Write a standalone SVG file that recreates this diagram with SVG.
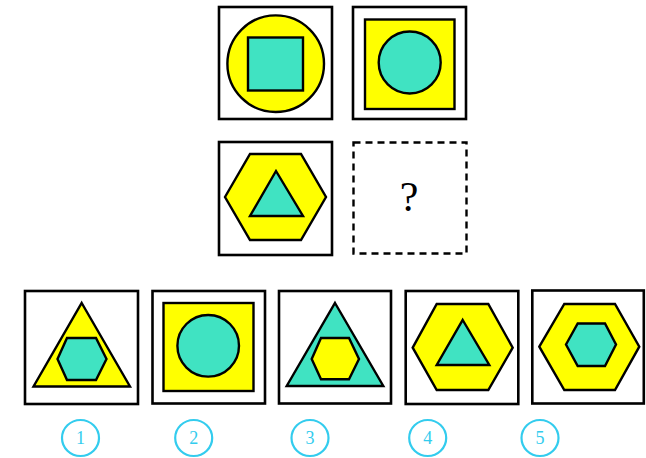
<svg xmlns="http://www.w3.org/2000/svg" width="646" height="458" viewBox="0 0 646 458">
<style>
.frame{fill:#fff;stroke:#000;stroke-width:2.6}
.dash{fill:#fff;stroke:#000;stroke-width:2.4;stroke-dasharray:7,5}
.y{fill:#ffff00;stroke:#000;stroke-width:2.4;stroke-linejoin:miter}
.t{fill:#40e3c2;stroke:#000;stroke-width:2.4;stroke-linejoin:miter}
.lab{fill:#fff;stroke:#33ccee;stroke-width:2.2}
</style>
<rect width="646" height="458" fill="#fff"/>
<g id="p1">
<rect class="frame" x="219" y="7" width="113" height="112"/>
<circle class="y" cx="275.7" cy="63.7" r="48.3"/>
<rect class="t" x="248" y="37.5" width="55" height="53"/>
</g>
<g id="p2">
<rect class="frame" x="353" y="7" width="113" height="112"/>
<rect class="y" x="365" y="19.5" width="89.5" height="89.5"/>
<circle class="t" cx="409.7" cy="62.5" r="31"/>
</g>
<g id="p3">
<rect class="frame" x="219" y="142" width="113" height="113"/>
<polygon class="y" points="225,197 250,154 301,154 326,197 301,240 250,240"/>
<polygon class="t" points="276,171 303,216 250,216"/>
</g>
<g id="p4">
<rect class="dash" x="353.5" y="142.5" width="113" height="111"/>
<text x="409" y="211" font-family="Liberation Serif, serif" font-size="42" text-anchor="middle" fill="#000">?</text>
</g>
<g id="o1">
<rect class="frame" x="25" y="291" width="113" height="113"/>
<polygon class="y" points="81.7,303 130,386.5 33.5,386.5"/>
<polygon class="t" points="57.5,359 67,338 96,338 106.5,359 96,380 67,380"/>
</g>
<g id="o2">
<rect class="frame" x="152.5" y="291" width="112.5" height="112.5"/>
<rect class="y" x="163.5" y="303" width="90" height="88"/>
<circle class="t" cx="208.2" cy="345.8" r="30.8"/>
</g>
<g id="o3">
<rect class="frame" x="279" y="291" width="112" height="112.5"/>
<polygon class="t" points="335,303 383.3,386 286.7,386"/>
<polygon class="y" points="311.7,359 321,338 349,338 359,359 349,379.3 321,379.3"/>
</g>
<g id="o4">
<rect class="frame" x="405.7" y="291" width="112.6" height="113"/>
<polygon class="y" points="412.7,347.7 436.7,304 488.3,304 512.7,347.7 488.3,390 436.7,390"/>
<polygon class="t" points="462.7,320 489.3,365 436.7,365"/>
</g>
<g id="o5">
<rect class="frame" x="532.3" y="290.5" width="111.5" height="113"/>
<polygon class="y" points="539.3,346.7 564.3,304 615,304 639.3,346.7 615,390 564.3,390"/>
<polygon class="t" points="566,344.5 577.7,323.5 605,323.5 616,344.5 605,366 577.7,366"/>
</g>
<g id="labels" font-family="Liberation Serif, serif" font-size="18" text-anchor="middle" fill="#33ccee">
<g id="l1"><ellipse class="lab" cx="80.5" cy="438" rx="18.5" ry="18"/><text x="80.5" y="443.5">1</text></g>
<g id="l2"><ellipse class="lab" cx="193.7" cy="438" rx="18.5" ry="18"/><text x="193.7" y="443.5">2</text></g>
<g id="l3"><ellipse class="lab" cx="310" cy="438" rx="18.5" ry="18"/><text x="310" y="443.5">3</text></g>
<g id="l4"><ellipse class="lab" cx="427.7" cy="438" rx="18.5" ry="18"/><text x="427.7" y="443.5">4</text></g>
<g id="l5"><ellipse class="lab" cx="540" cy="438" rx="18.5" ry="18"/><text x="540" y="443.5">5</text></g>
</g>
<g id="connectors"/>
</svg>
